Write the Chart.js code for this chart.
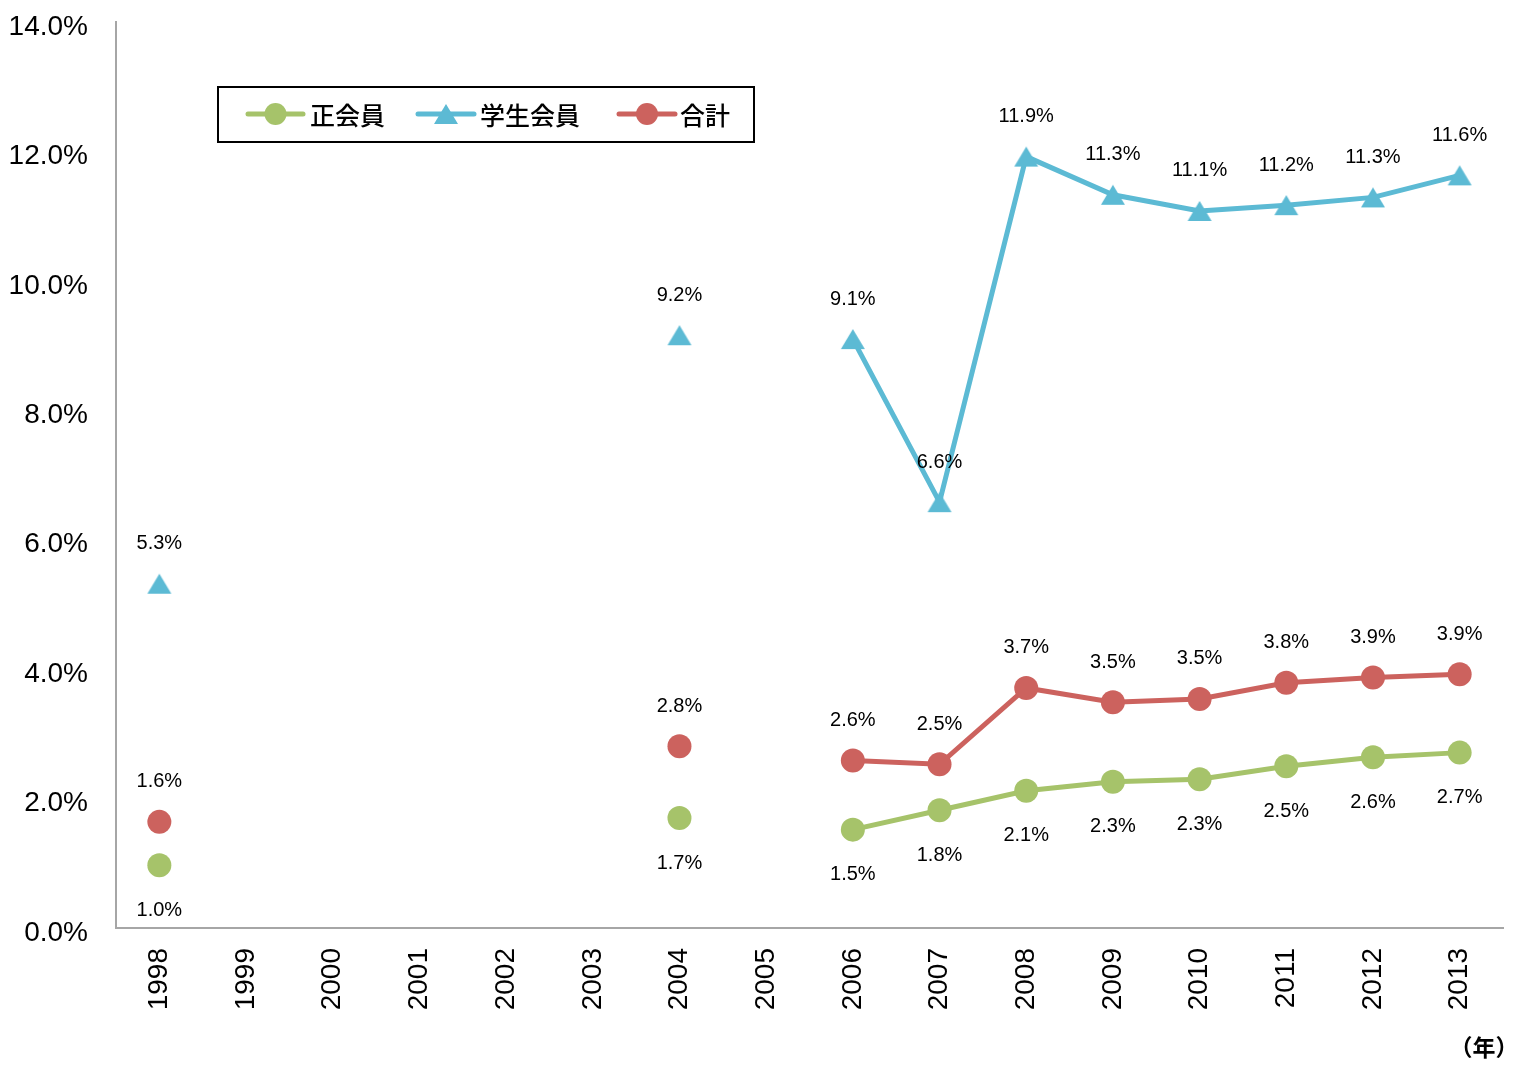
<!DOCTYPE html>
<html><head><meta charset="utf-8">
<script src="https://cdn.jsdelivr.net/npm/chart.js@4.4.1/dist/chart.umd.min.js"></script>
<style>html,body{margin:0;padding:0;background:#fff;}#wrap{width:1516px;height:1065px;position:relative;}</style>
</head><body><div id="wrap"><canvas id="c" width="1516" height="1065"></canvas></div>
<script>
const years = ['1998','1999','2000','2001','2002','2003','2004','2005','2006','2007','2008','2009','2010','2011','2012','2013'];
const regular = [0.97,null,null,null,null,null,1.70,null,1.52,1.82,2.12,2.26,2.30,2.50,2.64,2.71];
const student = [5.32,null,null,null,null,null,9.16,null,9.10,6.58,11.92,11.33,11.08,11.17,11.29,11.63];
const total   = [1.64,null,null,null,null,null,2.81,null,2.59,2.53,3.71,3.49,3.54,3.79,3.87,3.92];
const seriesNames = ['正会員','学生会員','合計'];
const yTicks = [0,2,4,6,8,10,12,14];
const unitLabel = '（年）';

const GREEN = '#A6C36A', BLUE = '#5CBAD4', RED = '#CC625E';
const NUM_FONT = '"Liberation Sans", Arial, sans-serif';
const JP_FONT = '"Noto Sans CJK JP", sans-serif';

function triCanvas(color){
  const c = document.createElement('canvas');
  c.width = 26; c.height = 22;
  const x = c.getContext('2d');
  x.fillStyle = color;
  x.beginPath(); x.moveTo(13,1); x.lineTo(25,21); x.lineTo(1,21); x.closePath(); x.fill();
  return c;
}
const tri = triCanvas(BLUE);

const labelPlugin = {
  id: 'labels',
  afterDatasetsDraw(chart){
    const ctx = chart.ctx;
    ctx.save();
    ctx.font = '20px ' + NUM_FONT;
    ctx.fillStyle = '#000';
    ctx.textAlign = 'center';
    ctx.textBaseline = 'middle';
    chart.data.datasets.forEach((ds, i) => {
      const meta = chart.getDatasetMeta(i);
      meta.data.forEach((pt, j) => {
        const v = ds.data[j];
        if (v === null || v === undefined) return;
        const dy = ds.labelPos === 'below' ? 45 : -40;
        ctx.fillText(v.toFixed(1) + '%', pt.x, pt.y + dy);
      });
    });
    ctx.restore();
  },
  afterDraw(chart){
    const ctx = chart.ctx;
    ctx.save();
    ctx.strokeStyle = '#000'; ctx.lineWidth = 2;
    ctx.strokeRect(218, 87, 536, 55);
    const cy = 114;
    const items = [
      {x0:248, x1:303, tx:310, color:GREEN, style:'circle', name:seriesNames[0]},
      {x0:418, x1:474, tx:480, color:BLUE, style:'tri', name:seriesNames[1]},
      {x0:619, x1:675, tx:680, color:RED, style:'circle', name:seriesNames[2]}
    ];
    items.forEach(it => {
      ctx.strokeStyle = it.color; ctx.lineWidth = 5; ctx.lineCap = 'round';
      ctx.beginPath(); ctx.moveTo(it.x0, cy); ctx.lineTo(it.x1, cy); ctx.stroke();
      const mx = (it.x0 + it.x1) / 2;
      if (it.style === 'circle') {
        ctx.fillStyle = it.color; ctx.beginPath(); ctx.arc(mx, cy, 11, 0, Math.PI*2); ctx.fill();
      } else {
        ctx.drawImage(tri, mx - 13, cy - 11);
      }
      ctx.fillStyle = '#000';
      ctx.font = '500 25px ' + JP_FONT;
      ctx.textAlign = 'left'; ctx.textBaseline = 'middle';
      ctx.fillText(it.name, it.tx, cy + 1);
    });
    ctx.font = 'bold 23px ' + JP_FONT;
    ctx.textAlign = 'center'; ctx.textBaseline = 'middle';
    ctx.fillText(unitLabel, 1484, 1047);
    ctx.restore();
  }
};

function zeroPad(s){ s.paddingTop = 0; s.paddingBottom = 0; s.paddingLeft = 0; s.paddingRight = 0; }

new Chart(document.getElementById('c'), {
  type: 'line',
  data: {
    labels: years,
    datasets: [
      {label: seriesNames[0], data: regular, borderColor: GREEN, backgroundColor: GREEN, borderWidth: 5,
       pointStyle: 'circle', pointRadius: 12, pointHoverRadius: 12, pointBorderWidth: 0, labelPos: 'below', order: 3},
      {label: seriesNames[1], data: student, borderColor: BLUE, backgroundColor: BLUE, borderWidth: 5,
       pointStyle: tri, pointRadius: 13, pointHoverRadius: 13, pointBorderWidth: 0, labelPos: 'above', order: 1},
      {label: seriesNames[2], data: total, borderColor: RED, backgroundColor: RED, borderWidth: 5,
       pointStyle: 'circle', pointRadius: 12, pointHoverRadius: 12, pointBorderWidth: 0, labelPos: 'above', order: 2}
    ]
  },
  options: {
    responsive: false,
    animation: false,
    spanGaps: false,
    layout: {padding: {top: 22, right: 11, left: 0, bottom: 0}},
    plugins: {legend: {display: false}, tooltip: {enabled: false}},
    elements: {line: {tension: 0}},
    scales: {
      x: {
        offset: true,
        grid: {display: false, drawTicks: false},
        border: {display: true, color: '#A6A6A6', width: 2},
        ticks: {color: '#000', font: {family: NUM_FONT, size: 28}, maxRotation: 90, minRotation: 90, padding: 20, autoSkip: false},
        afterFit(s){ s.height = 137; zeroPad(s); }
      },
      y: {
        min: 0, max: 14,
        grid: {display: false, drawTicks: false},
        border: {display: true, color: '#A6A6A6', width: 2},
        afterBuildTicks(s){ s.ticks = yTicks.map(v => ({value: v})); },
        ticks: {color: '#000', font: {family: NUM_FONT, size: 28, lineHeight: '10px'}, padding: 28,
                callback: v => ['', Number(v).toFixed(1) + '%']},
        afterFit(s){ s.width = 116; zeroPad(s); }
      }
    }
  },
  plugins: [labelPlugin]
});
</script>
</body></html>
